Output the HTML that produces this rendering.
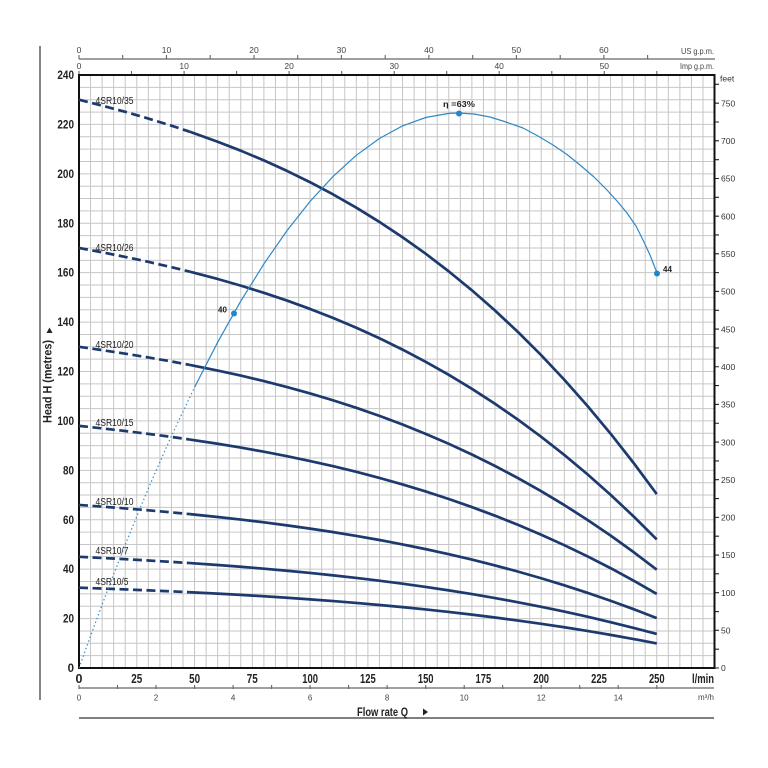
<!DOCTYPE html>
<html><head><meta charset="utf-8"><style>
html,body{margin:0;padding:0;background:#fff;}
svg{display:block;}
text{font-family:"Liberation Sans",Arial,sans-serif;}
</style></head><body>
<svg width="768" height="768" viewBox="0 0 768 768" xmlns="http://www.w3.org/2000/svg">
<rect width="768" height="768" fill="#fff"/>
<!-- grid -->
<path stroke="#c6c6c6" stroke-width="1" fill="none" d="M90.56 75V668M102.11 75V668M113.67 75V668M125.22 75V668M136.78 75V668M148.33 75V668M159.89 75V668M171.44 75V668M183 75V668M194.55 75V668M206.11 75V668M217.66 75V668M229.22 75V668M240.77 75V668M252.33 75V668M263.88 75V668M275.44 75V668M286.99 75V668M298.55 75V668M310.1 75V668M321.66 75V668M333.21 75V668M344.77 75V668M356.32 75V668M367.88 75V668M379.43 75V668M390.99 75V668M402.54 75V668M414.1 75V668M425.65 75V668M437.21 75V668M448.76 75V668M460.32 75V668M471.87 75V668M483.43 75V668M494.98 75V668M506.54 75V668M518.09 75V668M529.65 75V668M541.2 75V668M552.76 75V668M564.31 75V668M575.87 75V668M587.42 75V668M598.98 75V668M610.53 75V668M622.09 75V668M633.64 75V668M645.2 75V668M656.75 75V668M668.31 75V668M679.86 75V668M691.42 75V668M702.97 75V668
M79 655.65H714M79 643.29H714M79 630.94H714M79 618.58H714M79 606.23H714M79 593.88H714M79 581.52H714M79 569.17H714M79 556.81H714M79 544.46H714M79 532.11H714M79 519.75H714M79 507.4H714M79 495.04H714M79 482.69H714M79 470.34H714M79 457.98H714M79 445.63H714M79 433.27H714M79 420.92H714M79 408.57H714M79 396.21H714M79 383.86H714M79 371.5H714M79 359.15H714M79 346.8H714M79 334.44H714M79 322.09H714M79 309.73H714M79 297.38H714M79 285.03H714M79 272.67H714M79 260.32H714M79 247.96H714M79 235.61H714M79 223.26H714M79 210.9H714M79 198.55H714M79 186.19H714M79 173.84H714M79 161.49H714M79 149.13H714M79 136.78H714M79 124.42H714M79 112.07H714M79 99.72H714M79 87.36H714"/>

<!-- outer decorative lines -->
<line x1="40" y1="46" x2="40" y2="700" stroke="#666" stroke-width="1.6"/>
<line x1="79" y1="718" x2="714" y2="718" stroke="#555" stroke-width="1.6"/>

<!-- US gpm axis -->
<line x1="79" y1="59" x2="715" y2="59" stroke="#666" stroke-width="1.2"/>
<path stroke="#666" stroke-width="1.1" d="M79 55V59M122.7 55V59M166.5 55V59M210.2 55V59M254 55V59M297.7 55V59M341.4 55V59M385.2 55V59M428.9 55V59M472.7 55V59M516.4 55V59M560.2 55V59M603.9 55V59M647.6 55V59"/>
<g font-size="8.5" fill="#444" text-anchor="middle">
<text x="79" y="53">0</text><text x="166.5" y="53">10</text><text x="254" y="53">20</text><text x="341.4" y="53">30</text><text x="428.9" y="53">40</text><text x="516.4" y="53">50</text><text x="603.9" y="53">60</text>
</g>
<text x="714" y="54" font-size="8.5" fill="#444" text-anchor="end" textLength="33" lengthAdjust="spacingAndGlyphs">US g.p.m.</text>

<!-- Imp gpm axis -->
<path stroke="#666" stroke-width="1.1" d="M79 71V75M131.5 71V75M184.1 71V75M236.6 71V75M289.1 71V75M341.7 71V75M394.2 71V75M446.7 71V75M499.2 71V75M551.8 71V75M604.3 71V75M656.8 71V75"/>
<g font-size="8.5" fill="#444" text-anchor="middle">
<text x="79" y="69">0</text><text x="184.1" y="69">10</text><text x="289.1" y="69">20</text><text x="394.2" y="69">30</text><text x="499.2" y="69">40</text><text x="604.3" y="69">50</text>
</g>
<text x="714" y="69" font-size="8.5" fill="#444" text-anchor="end" textLength="34" lengthAdjust="spacingAndGlyphs">Imp g.p.m.</text>

<!-- m3/h axis -->
<line x1="79" y1="688" x2="714" y2="688" stroke="#666" stroke-width="1.2"/>
<path stroke="#666" stroke-width="1.1" d="M79 685V689M117.5 685V689M156 685V689M194.6 685V689M233.1 685V689M271.6 685V689M310.1 685V689M348.6 685V689M387.1 685V689M425.7 685V689M464.2 685V689M502.7 685V689M541.2 685V689M579.7 685V689M618.2 685V689M656.8 685V689"/>
<g font-size="8" fill="#444" text-anchor="middle">
<text x="79" y="700.5">0</text><text x="156" y="700.5">2</text><text x="233.1" y="700.5">4</text><text x="310.1" y="700.5">6</text><text x="387.1" y="700.5">8</text><text x="464.2" y="700.5">10</text><text x="541.2" y="700.5">12</text><text x="618.2" y="700.5">14</text>
</g>
<text x="714" y="700" font-size="8" fill="#444" text-anchor="end">m³/h</text>

<!-- Flow rate label -->
<text x="357" y="716" font-size="11.5" font-weight="bold" fill="#222" textLength="51" lengthAdjust="spacingAndGlyphs">Flow rate Q</text>
<polygon points="423,708.5 428,712 423,715.5" fill="#222"/>

<!-- Head label -->
<text transform="translate(51.5,423) rotate(-90)" font-size="11.5" font-weight="bold" fill="#222" textLength="83" lengthAdjust="spacingAndGlyphs">Head H (metres)</text>
<polygon points="46.5,333 52.5,333 49.5,327.5" fill="#222"/>

<!-- left y labels -->
<g font-size="11.5" font-weight="bold" fill="#222" text-anchor="end">
<text x="74" y="672">0</text>
<text x="74" y="622.6" textLength="11" lengthAdjust="spacingAndGlyphs">20</text>
<text x="74" y="573.2" textLength="11" lengthAdjust="spacingAndGlyphs">40</text>
<text x="74" y="523.8" textLength="11" lengthAdjust="spacingAndGlyphs">60</text>
<text x="74" y="474.3" textLength="11" lengthAdjust="spacingAndGlyphs">80</text>
<text x="74" y="424.9" textLength="16.6" lengthAdjust="spacingAndGlyphs">100</text>
<text x="74" y="375.5" textLength="16.6" lengthAdjust="spacingAndGlyphs">120</text>
<text x="74" y="326.1" textLength="16.6" lengthAdjust="spacingAndGlyphs">140</text>
<text x="74" y="276.7" textLength="16.6" lengthAdjust="spacingAndGlyphs">160</text>
<text x="74" y="227.3" textLength="16.6" lengthAdjust="spacingAndGlyphs">180</text>
<text x="74" y="177.8" textLength="16.6" lengthAdjust="spacingAndGlyphs">200</text>
<text x="74" y="128.4" textLength="16.6" lengthAdjust="spacingAndGlyphs">220</text>
<text x="74" y="79" textLength="16.6" lengthAdjust="spacingAndGlyphs">240</text>
</g>

<!-- bottom l/min labels -->
<g font-size="12.5" font-weight="bold" fill="#222" text-anchor="middle">
<text x="79" y="683">0</text>
<text x="136.8" y="683" textLength="11" lengthAdjust="spacingAndGlyphs">25</text>
<text x="194.6" y="683" textLength="11" lengthAdjust="spacingAndGlyphs">50</text>
<text x="252.3" y="683" textLength="11" lengthAdjust="spacingAndGlyphs">75</text>
<text x="310.1" y="683" textLength="15.7" lengthAdjust="spacingAndGlyphs">100</text>
<text x="367.9" y="683" textLength="15.7" lengthAdjust="spacingAndGlyphs">125</text>
<text x="425.7" y="683" textLength="15.7" lengthAdjust="spacingAndGlyphs">150</text>
<text x="483.4" y="683" textLength="15.7" lengthAdjust="spacingAndGlyphs">175</text>
<text x="541.2" y="683" textLength="15.7" lengthAdjust="spacingAndGlyphs">200</text>
<text x="599" y="683" textLength="15.7" lengthAdjust="spacingAndGlyphs">225</text>
<text x="656.8" y="683" textLength="15.7" lengthAdjust="spacingAndGlyphs">250</text>
</g>
<text x="692" y="683" font-size="12.5" font-weight="bold" fill="#222" textLength="22" lengthAdjust="spacingAndGlyphs">l/min</text>

<!-- right feet axis -->
<path stroke="#222" stroke-width="1.1" d="M715 668H719M715 649.17H719M715 630.35H719M715 611.52H719M715 592.69H719M715 573.86H719M715 555.04H719M715 536.21H719M715 517.38H719M715 498.55H719M715 479.73H719M715 460.9H719M715 442.07H719M715 423.24H719M715 404.42H719M715 385.59H719M715 366.76H719M715 347.93H719M715 329.11H719M715 310.28H719M715 291.45H719M715 272.62H719M715 253.8H719M715 234.97H719M715 216.14H719M715 197.31H719M715 178.49H719M715 159.66H719M715 140.83H719M715 122H719M715 103.18H719M715 84.35H719"/>
<g font-size="8.5" fill="#333">
<text x="721" y="671.2">0</text>
<text x="721" y="633.5">50</text>
<text x="721" y="595.9">100</text>
<text x="721" y="558.2">150</text>
<text x="721" y="520.6">200</text>
<text x="721" y="482.9">250</text>
<text x="721" y="445.3">300</text>
<text x="721" y="407.6">350</text>
<text x="721" y="370">400</text>
<text x="721" y="332.3">450</text>
<text x="721" y="294.7">500</text>
<text x="721" y="257">550</text>
<text x="721" y="219.3">600</text>
<text x="721" y="181.7">650</text>
<text x="721" y="144">700</text>
<text x="721" y="106.4">750</text>
<text x="720" y="81.5">feet</text>
</g>

<!-- plot frame -->
<rect x="79" y="75" width="635.5" height="593" fill="none" stroke="#111" stroke-width="2"/>

<!-- pump curves -->
<g fill="none" stroke="#1d3a6e" stroke-width="2.7" stroke-linejoin="round" stroke-linecap="butt">
<!-- 35 -->
<polyline stroke-dasharray="9 4.5" points="79,99.72 102.11,105.59 125.22,111.84 148.33,118.52 171.44,125.68 189.93,131.79"/>
<polyline points="189.93,131.79 217.66,141.71 240.77,150.69 263.88,160.4 286.99,170.9 310.1,182.24 333.21,194.49 356.32,207.7 379.43,221.93 402.54,237.25 425.65,253.71 448.76,271.37 471.87,290.28 494.98,310.52 518.09,332.14 541.2,355.2 564.31,379.75 587.42,405.87 610.53,433.59 633.64,462.99 656.75,494.13"/>
<!-- 26 -->
<polyline stroke-dasharray="9 4.5" points="79,247.96 102.11,252.3 125.22,256.92 148.33,261.85 171.44,267.15 189.93,271.67"/>
<polyline points="189.93,271.67 217.66,278.99 240.77,285.64 263.88,292.81 286.99,300.57 310.1,308.95 333.21,318.01 356.32,327.77 379.43,338.29 402.54,349.61 425.65,361.78 448.76,374.83 471.87,388.81 494.98,403.77 518.09,419.75 541.2,436.79 564.31,454.94 587.42,474.24 610.53,494.73 633.64,516.47 656.75,539.48"/>
<!-- 20 -->
<polyline stroke-dasharray="9 4.5" points="79,346.8 102.11,350.12 125.22,353.65 148.33,357.42 171.44,361.47 189.93,364.93"/>
<polyline points="189.93,364.93 217.66,370.53 240.77,375.61 263.88,381.1 286.99,387.03 310.1,393.44 333.21,400.36 356.32,407.83 379.43,415.87 402.54,424.53 425.65,433.84 448.76,443.82 471.87,454.51 494.98,465.95 518.09,478.17 541.2,491.2 564.31,505.08 587.42,519.84 610.53,535.51 633.64,552.13 656.75,569.72"/>
<!-- 15 -->
<polyline stroke-dasharray="9 4.5" points="79,425.86 102.11,428.36 125.22,431.02 148.33,433.87 171.44,436.92 189.93,439.53"/>
<polyline points="189.93,439.53 217.66,443.75 240.77,447.58 263.88,451.71 286.99,456.19 310.1,461.02 333.21,466.24 356.32,471.87 379.43,477.93 402.54,484.46 425.65,491.47 448.76,498.99 471.87,507.06 494.98,515.68 518.09,524.89 541.2,534.72 564.31,545.18 587.42,556.31 610.53,568.12 633.64,580.65 656.75,593.91"/>
<!-- 10 -->
<polyline stroke-dasharray="9 4.5" points="79,504.93 102.11,506.62 125.22,508.41 148.33,510.32 171.44,512.38 189.93,514.13"/>
<polyline points="189.93,514.13 217.66,516.98 240.77,519.56 263.88,522.34 286.99,525.36 310.1,528.61 333.21,532.12 356.32,535.92 379.43,540 402.54,544.4 425.65,549.12 448.76,554.19 471.87,559.61 494.98,565.42 518.09,571.62 541.2,578.24 564.31,585.29 587.42,592.78 610.53,600.74 633.64,609.18 656.75,618.11"/>
<!-- 7 -->
<polyline stroke-dasharray="9 4.5" points="79,556.81 102.11,557.96 125.22,559.18 148.33,560.49 171.44,561.89 189.93,563.09"/>
<polyline points="189.93,563.09 217.66,565.02 240.77,566.78 263.88,568.68 286.99,570.74 310.1,572.95 333.21,575.35 356.32,577.94 379.43,580.72 402.54,583.72 425.65,586.94 448.76,590.39 471.87,594.09 494.98,598.05 518.09,602.28 541.2,606.79 564.31,611.6 587.42,616.71 610.53,622.13 633.64,627.89 656.75,633.98"/>
<!-- 5 -->
<polyline stroke-dasharray="9 4.5" points="79,587.7 102.11,588.53 125.22,589.41 148.33,590.36 171.44,591.37 189.93,592.23"/>
<polyline points="189.93,592.23 217.66,593.63 240.77,594.9 263.88,596.27 286.99,597.76 310.1,599.36 333.21,601.09 356.32,602.96 379.43,604.97 402.54,607.13 425.65,609.46 448.76,611.95 471.87,614.63 494.98,617.49 518.09,620.54 541.2,623.8 564.31,627.27 587.42,630.96 610.53,634.88 633.64,639.03 656.75,643.43"/>
</g>

<!-- curve labels -->
<g font-size="10" fill="#222">
<text x="95.5" y="104" textLength="38" lengthAdjust="spacingAndGlyphs">4SR10/35</text>
<text x="95.5" y="251" textLength="38" lengthAdjust="spacingAndGlyphs">4SR10/26</text>
<text x="95.5" y="348" textLength="38" lengthAdjust="spacingAndGlyphs">4SR10/20</text>
<text x="95.5" y="426" textLength="38" lengthAdjust="spacingAndGlyphs">4SR10/15</text>
<text x="95.5" y="505" textLength="38" lengthAdjust="spacingAndGlyphs">4SR10/10</text>
<text x="95.5" y="554" textLength="33" lengthAdjust="spacingAndGlyphs">4SR10/7</text>
<text x="95.5" y="585" textLength="33" lengthAdjust="spacingAndGlyphs">4SR10/5</text>
</g>

<!-- efficiency curve -->
<g fill="none" stroke="#3088c6" stroke-width="1.2" stroke-linejoin="round">
<polyline stroke-dasharray="1.4 2.6" points="79,668 90.6,635.9 102.1,604.6 113.7,574.2 125.2,544.7 148.3,488.5 171.4,436 194.6,387.2"/>
<polyline points="194.6,387.2 217.7,342.2 240.8,301.1 263.9,263.9 287,230.6 310.1,201.4 333.2,176.3 356.3,155.3 379.4,138.5 402.5,125.9 425.7,117.5 448.8,113.4 459,113 474,114 490,117 506,122 523,128 538,136 553,145 567,154.5 580,165 594,177 607,190 617,201 627,213 636,226 643,240 650,255 657,273"/>
</g>
<g fill="#1f88cc">
<circle cx="234" cy="313.5" r="3"/>
<circle cx="459" cy="113.5" r="3"/>
<circle cx="657" cy="273.5" r="3"/>
</g>
<g font-size="8" font-weight="bold" fill="#222">
<text x="218" y="312.5">40</text>
<text x="663" y="272">44</text>
<text x="443" y="107" textLength="32" lengthAdjust="spacingAndGlyphs">η =63%</text>
</g>
</svg>
</body></html>
